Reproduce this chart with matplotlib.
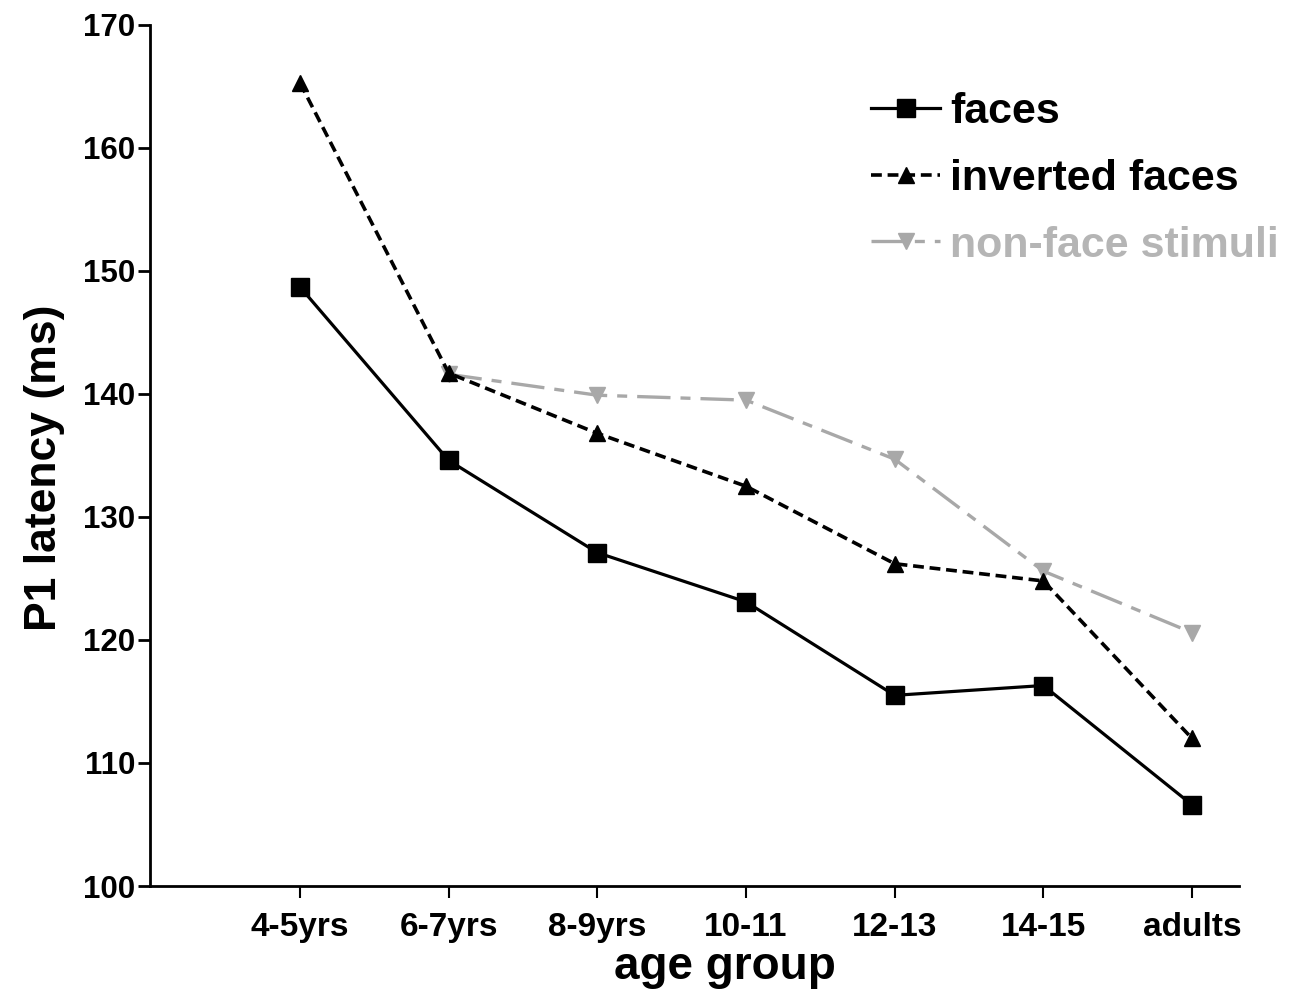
import matplotlib
matplotlib.use("Agg")
import matplotlib.pyplot as plt

categories = ["4-5yrs", "6-7yrs", "8-9yrs", "10-11", "12-13", "14-15", "adults"]
faces = [148.7, 134.6, 127.1, 123.1, 115.5, 116.3, 106.6]
inverted_faces = [165.3, 141.7, 136.8, 132.5, 126.2, 124.8, 112.0]
nonface_cats = ["6-7yrs", "8-9yrs", "10-11", "12-13", "14-15", "adults"]
nonface = [141.6, 139.9, 139.5, 134.7, 125.6, 120.6]
yticks = [100, 110, 120, 130, 140, 150, 160, 170]

plt.rcParams['font.family'] = ['Liberation Sans', 'DejaVu Sans']
plt.rcParams['font.weight'] = 'bold'

fig = plt.figure(figsize=(12.94, 9.93), dpi=100)
ax = fig.add_axes([0.1159, 0.10775, 0.8416, 0.8671])

x = list(range(len(categories)))
xn = [categories.index(c) for c in nonface_cats]

grey = '#a8a8a8'
ax.plot(xn, nonface, color=grey, lw=2.4, dashes=(10, 3, 3, 3), marker='v',
        markersize=11, markerfacecolor=grey, markeredgecolor=grey, label='non-face stimuli', zorder=2)
ax.plot(x, inverted_faces, color='black', lw=2.6, dashes=(3, 1.6), marker='^',
        markersize=12, label='inverted faces', zorder=3)
ax.plot(x, faces, color='black', lw=2.3, ls='-', marker='s',
        markersize=13, label='faces', zorder=4)

ax.set_xlim(-1.009, 6.316)
ax.set_ylim(100, 170)
ax.set_xticks(x)
ax.set_xticklabels(categories)
ax.set_yticks(yticks)

for s in ['top', 'right']:
    ax.spines[s].set_visible(False)
for s in ['left', 'bottom']:
    ax.spines[s].set_linewidth(2.0)

ax.tick_params(axis='y', direction='out', length=8.5, width=2, labelsize=22.5, pad=2)
ax.tick_params(axis='x', direction='out', length=8.5, width=1.5, labelsize=24, pad=10)
for lab in ax.get_xticklabels() + ax.get_yticklabels():
    lab.set_fontweight('bold')

ax.set_xlabel('age group', fontsize=33, fontweight='bold')
ax.xaxis.set_label_coords(0.528, -0.068)
ax.set_ylabel('P1 latency (ms)', fontsize=32, fontweight='bold')
ax.yaxis.set_label_coords(-0.078, 0.4855)

handles, labels = ax.get_legend_handles_labels()
order = [2, 1, 0]
leg = ax.legend([handles[i] for i in order], [labels[i] for i in order],
                loc='upper left', bbox_to_anchor=(0.6465, 0.942), frameon=False,
                handlelength=1.6, handletextpad=0.23, labelspacing=0.62,
                borderaxespad=0.0, prop={'weight': 'bold', 'size': 31})
for t in leg.get_texts():
    if t.get_text() == 'non-face stimuli':
        t.set_color('#b5b5b5')

fig.savefig('out.png', dpi=100)
